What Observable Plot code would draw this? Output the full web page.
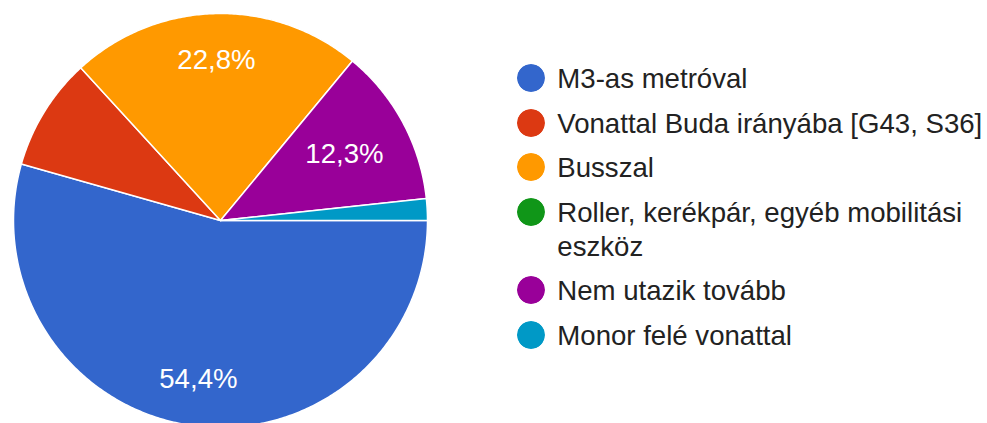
<!DOCTYPE html>
<html>
<head>
<meta charset="utf-8">
<script src="https://cdn.jsdelivr.net/npm/d3@7"></script>
<script src="https://cdn.jsdelivr.net/npm/@observablehq/plot@0.6"></script>
<style>
  html, body { margin: 0; padding: 0; background: #fff; }
  #wrap { position: relative; width: 987px; height: 423px; overflow: hidden; font-family: "Liberation Sans", Arial, sans-serif; }
  #legend { position: absolute; left: 517px; top: 62px; width: 468px; }
  #legend .lg-swatches { font-family: "Liberation Sans", Arial, sans-serif; font-size: 27.6px; color: #222; margin: 0; }
  #legend .lg-swatch { display: flex !important; align-items: flex-start !important; line-height: 34px; margin-bottom: 10.5px; padding: 0 !important; }
  #legend .lg-swatch > :not(svg) { white-space: normal !important; overflow: visible !important; text-overflow: clip !important; }
  #legend .lg-swatch > svg { margin-right: 12.3px !important; margin-top: 2.2px; border-radius: 50%; overflow: hidden !important; flex-shrink: 0; }
  #legend .lg-swatch > svg rect { rx: 14px; ry: 14px; }
</style>
</head>
<body>
<div id="wrap"><div id="legend"></div></div>
<script>
// Data
const categories = [
  "M3-as metróval",
  "Vonattal Buda irányába [G43, S36]",
  "Busszal",
  "Roller, kerékpár, egyéb mobilitási eszköz",
  "Nem utazik tovább",
  "Monor felé vonattal"
];
const percents = [54.4, 8.8, 22.8, 0, 12.3, 1.7];
const colors = ["#3366cc", "#dc3912", "#ff9900", "#109618", "#990099", "#0099c6"];

const rows = categories.map((c, i) => ({cat: c, value: percents[i]}));
const arcs = d3.pie().value(d => d.value).sort(null)
  .startAngle(Math.PI / 2).endAngle(Math.PI / 2 + 2 * Math.PI)(rows);

// slice outlines (geometry of each arc in unit-radius coordinates)
const outline = [];
for (const a of arcs) {
  if (a.endAngle - a.startAngle <= 0) continue;
  const n = Math.max(2, Math.ceil((a.endAngle - a.startAngle) / 0.01));
  outline.push({cat: a.data.cat, x: 0, y: 0});
  for (let k = 0; k <= n; k++) {
    const t = a.startAngle + (a.endAngle - a.startAngle) * k / n;
    outline.push({cat: a.data.cat, x: Math.sin(t), y: Math.cos(t)});
  }
}

const fmt = v => d3.format(".1f")(v).replace(".", ",") + "%";
const labels = arcs.filter(a => a.data.value >= 10).map(a => {
  const mid = (a.startAngle + a.endAngle) / 2;
  const f = (a.endAngle - a.startAngle) > 1 ? 0.775 : 0.68;
  return {x: f * Math.sin(mid), y: f * Math.cos(mid), text: fmt(a.data.value)};
});

const chart = Plot.plot({
  width: 987,
  height: 423,
  margin: 0,
  style: {background: "transparent", fontFamily: "'Liberation Sans', Arial, sans-serif", overflow: "visible"},
  x: {domain: [-1, 1], range: [13, 427], axis: null},
  y: {domain: [-1, 1], range: [427, 13], axis: null},
  color: {domain: categories, range: colors},
  marks: [
    Plot.line(outline, {x: "x", y: "y", z: "cat", fill: "cat", stroke: "white", strokeWidth: 1.5, strokeLinejoin: "round", curve: "linear-closed"}),
    Plot.text(labels, {x: "x", y: "y", text: "text", fill: "white", fontSize: 27.6})
  ]
});
document.getElementById("wrap").prepend(chart);

const legend = Plot.legend({
  color: {domain: categories, range: colors, type: "ordinal"},
  legend: "swatches",
  columns: 1,
  swatchSize: 28,
  className: "lg"
});
document.getElementById("legend").appendChild(legend);
</script>
</body>
</html>
